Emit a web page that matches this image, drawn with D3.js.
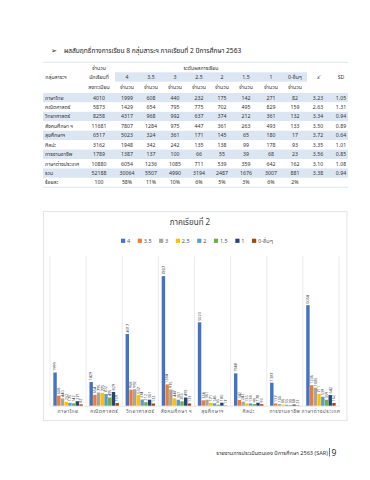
<!DOCTYPE html>
<html>
<head>
<meta charset="utf-8">
<script src="https://cdn.jsdelivr.net/npm/d3@7"></script>
<style>
  body { margin: 0; background: #fff; }
  text { font-family: "Noto Sans Thai", "Noto Sans", "DejaVu Sans", sans-serif; }
</style>
</head>
<body>
<div id="chart"></div>
<script>
// subjects (rows of the table, categories of the chart)
var subjects = ["ภาษาไทย", "คณิตศาสตร์", "วิทยาศาสตร์", "สังคมศึกษา ฯ", "สุขศึกษาฯ", "ศิลปะ", "การงานอาชีพ", "ภาษาต่างประเทศ"];
var gradeKeys = ["4", "3.5", "3", "2.5", "2", "1.5", "1", "0-อื่นๆ"];

// number of students registered per subject
var registered = [4010, 5873, 8258, 11681, 6517, 3162, 1789, 10880];

// number of students per grade level (one array per series)
var grade4 = [1999, 1429, 4317, 7807, 5023, 1948, 1387, 6054];
var grade35 = [608, 654, 968, 1284, 324, 342, 137, 1236];
var grade3 = [440, 795, 992, 975, 361, 242, 100, 1085];
var grade25 = [232, 775, 637, 447, 171, 135, 66, 711];
var grade2 = [175, 702, 374, 361, 145, 138, 55, 539];
var grade15 = [142, 495, 212, 263, 65, 99, 39, 359];
var grade1 = [271, 829, 361, 493, 180, 178, 68, 642];
var grade0 = [82, 159, 132, 133, 17, 93, 23, 162];

var means = ["3.23", "2.63", "3.34", "3.50", "3.72", "3.35", "3.56", "3.10"];
var sds = ["1.05", "1.31", "0.94", "0.89", "0.64", "1.01", "0.85", "1.08"];

// summary rows
var totalRow = ["52188", "30064", "5507", "4990", "3194", "2487", "1676", "3007", "881", "3.38", "0.94"];
var percentRow = ["100", "58%", "11%", "10%", "6%", "5%", "3%", "6%", "2%", "", ""];

var yTicks = [0, 9000];

function init(){

  var W = 370, H = 480;
  var series = [grade4, grade35, grade3, grade25, grade2, grade15, grade1, grade0];
  var colors = ["#4472c4", "#ed7d31", "#a5a5a5", "#ffc000", "#5b9bd5", "#70ad47", "#264478", "#9e480e"];

  var svg = d3.select("#chart")
    .append("svg")
      .attr("width", W)
      .attr("height", H);

  svg.append("rect").attr("width", W).attr("height", H).attr("fill", "#fff");

  // heading line above the table
  svg.append("text")
    .attr("x", 51).attr("y", 52.5)
    .attr("font-size", 7).attr("fill", "#222")
    .text("➢");
  svg.append("text")
    .attr("x", 64).attr("y", 52.5)
    .attr("font-size", 6.6).attr("fill", "#222")
    .text("ผลสัมฤทธิ์ทางการเรียน 8 กลุ่มสาระฯ ภาคเรียนที่ 2 ปีการศึกษา 2563");

  // ---------- table ----------
  var tLeft = 43, tRight = 348;
  var colX = [99, 127, 151, 175, 199, 222, 246, 271, 295, 318, 341];
  var rowH = 9.43, firstRow = 97.7;
  var table = svg.append("g").attr("font-size", 5.2).attr("fill", "#333");

  var rows = subjects.map(function(s, i){
    return [s, registered[i]].concat(series.map(function(a){ return a[i]; })).concat([means[i], sds[i]]);
  });
  rows.push(["รวม"].concat(totalRow));
  rows.push(["ร้อยละ"].concat(percentRow));

  // shading of alternate rows
  table.selectAll("rect.band")
    .data(rows)
    .enter().append("rect")
      .attr("class", "band")
      .attr("x", tLeft)
      .attr("y", function(d, i){ return firstRow + i * rowH - rowH / 2; })
      .attr("width", tRight - tLeft)
      .attr("height", rowH)
      .attr("fill", function(d, i){ return i % 2 == 0 ? "#dce6f2" : "#fff"; });

  // header shading for grade row
  table.append("rect")
    .attr("x", 115).attr("y", 72.3)
    .attr("width", 192).attr("height", 9.4)
    .attr("fill", "#dce6f2");

  table.append("line")
    .attr("x1", tLeft).attr("x2", tRight).attr("y1", 62.3).attr("y2", 62.3)
    .attr("stroke", "#c8d3e0").attr("stroke-width", 0.6);
  table.append("line")
    .attr("x1", tLeft).attr("x2", tRight)
    .attr("y1", firstRow + 9.5 * rowH).attr("y2", firstRow + 9.5 * rowH)
    .attr("stroke", "#c8d3e0").attr("stroke-width", 0.6);

  // header texts
  table.append("text").attr("x", 56).attr("y", 79).attr("text-anchor", "middle").text("กลุ่มสาระฯ");
  ["จำนวน", "นักเรียนที่", "ลงทะเบียน"].forEach(function(t, i){
    table.append("text").attr("x", colX[0]).attr("y", 69.5 + i * 9.5).attr("text-anchor", "middle").text(t);
  });
  table.append("text").attr("x", 201).attr("y", 69.5).attr("text-anchor", "middle").text("ระดับผลการเรียน");
  gradeKeys.forEach(function(g, i){
    table.append("text").attr("x", colX[i + 1]).attr("y", 79).attr("text-anchor", "middle").text(g);
    table.append("text").attr("x", colX[i + 1]).attr("y", 88.5).attr("text-anchor", "middle").text("จำนวน");
  });
  table.append("text").attr("x", colX[9]).attr("y", 79).attr("text-anchor", "middle").attr("font-style", "italic").text("x̄");
  table.append("text").attr("x", colX[10]).attr("y", 79).attr("text-anchor", "middle").text("SD");

  // body texts
  var rowG = table.selectAll("g.row")
    .data(rows)
    .enter().append("g")
      .attr("class", "row")
      .attr("transform", function(d, i){ return "translate(0," + (firstRow + i * rowH + 1.8) + ")"; });
  rowG.append("text").attr("x", 45).text(function(d){ return d[0]; });
  rowG.selectAll("text.cell")
    .data(function(d){ return d.slice(1); })
    .enter().append("text")
      .attr("class", "cell")
      .attr("x", function(d, i){ return colX[i]; })
      .attr("text-anchor", "middle")
      .text(function(d){ return d; });

  // ---------- chart ----------
  svg.append("rect")
    .attr("x", 43.3).attr("y", 211.7)
    .attr("width", 303.7).attr("height", 209)
    .attr("fill", "#fff").attr("stroke", "#d9d9d9").attr("stroke-width", 0.7);

  svg.append("text")
    .attr("x", 190).attr("y", 224.5)
    .attr("text-anchor", "middle")
    .attr("font-size", 8).attr("fill", "#404040")
    .text("ภาคเรียนที่ 2");

  var x0 = d3.scaleBand().domain(subjects).range([50, 339]);
  var x1 = d3.scaleBand().domain(gradeKeys).range([0, x0.bandwidth()]).paddingInner(0.08).paddingOuter(0.9);
  var y = d3.scaleLinear().domain(d3.extent(yTicks)).range([405.7, 256.3]);

  // vertical category gridlines
  svg.append("g")
    .selectAll("line")
    .data(subjects.concat(["end"]))
    .enter().append("line")
      .attr("x1", function(d){ return d == "end" ? x0.range()[1] : x0(d); })
      .attr("x2", function(d){ return d == "end" ? x0.range()[1] : x0(d); })
      .attr("y1", y.range()[1]).attr("y2", y.range()[0])
      .attr("stroke", "#e3e3e3").attr("stroke-width", 0.7);

  // bottom axis
  var xAxis = svg.append("g")
    .attr("transform", "translate(0," + y(0) + ")")
    .call(d3.axisBottom(x0).tickSize(0).tickPadding(3.5));
  xAxis.select(".domain").attr("stroke", "#d9d9d9").attr("stroke-width", 0.7);
  xAxis.selectAll("text")
    .attr("font-size", 5).attr("fill", "#595959")
    .attr("letter-spacing", 0.45)
    .style("font-family", "\"Noto Sans Thai\", \"Noto Sans\", \"DejaVu Sans\", sans-serif");

  // bars, one group per series
  var barData = series.map(function(vals, k){
    return vals.map(function(v, i){ return {key: gradeKeys[k], subject: subjects[i], value: v}; });
  });
  var groups = svg.append("g")
    .selectAll("g")
    .data(barData)
    .enter().append("g")
      .attr("fill", function(d, k){ return colors[k]; });

  groups.selectAll("rect")
    .data(function(d){ return d; })
    .enter().append("rect")
      .attr("x", function(d){ return x0(d.subject) + x1(d.key); })
      .attr("y", function(d){ return y(d.value); })
      .attr("width", x1.bandwidth())
      .attr("height", function(d){ return y(0) - y(d.value); });

  // rotated value labels above each bar
  groups.selectAll("text")
    .data(function(d){ return d; })
    .enter().append("text")
      .attr("transform", function(d){
        return "translate(" + (x0(d.subject) + x1(d.key) + x1.bandwidth() / 2 + 1.3) + "," + (y(d.value) - 1.5) + ") rotate(-90)";
      })
      .attr("font-size", 3.8).attr("fill", "#404040")
      .text(function(d){ return d.value; });

  // legend
  var legend = svg.append("g").attr("font-size", 5.6).attr("fill", "#595959");
  var lx = 0;
  gradeKeys.forEach(function(g, k){
    var item = legend.append("g").attr("transform", "translate(" + lx + ",0)");
    item.append("rect").attr("x", 0).attr("y", -2.3).attr("width", 4.2).attr("height", 4.2).attr("fill", colors[k]);
    var t = item.append("text").attr("x", 6).attr("y", 2).text(g);
    lx += 6 + t.node().getComputedTextLength() + 7.5;
  });
  legend.attr("transform", "translate(" + (197 - (lx - 7.5) / 2) + ",241)");

  // page footer
  svg.append("text")
    .attr("x", 328).attr("y", 455)
    .attr("text-anchor", "end")
    .attr("font-size", 5.6).attr("fill", "#333")
    .text("รายงานการประเมินตนเอง ปีการศึกษา 2563 (SAR)");
  svg.append("rect")
    .attr("x", 329).attr("y", 448).attr("width", 0.9).attr("height", 8.5)
    .attr("fill", "#4472c4");
  svg.append("text")
    .attr("x", 331.5).attr("y", 456)
    .attr("font-size", 8.5).attr("fill", "#333")
    .text("9");
}
window.onload = init;
</script>
</body>
</html>
